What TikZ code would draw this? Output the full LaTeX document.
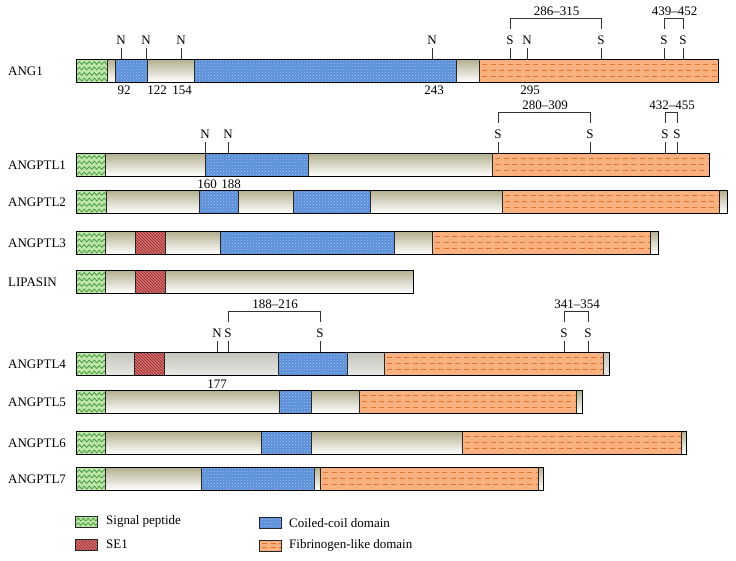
\documentclass[tikz,border=0pt]{standalone}
\usepackage{fontspec}
\setmainfont{Liberation Serif}
\usetikzlibrary{patterns,decorations.pathmorphing}
\definecolor{sigfill}{RGB}{190,229,168}
\definecolor{sigline}{RGB}{60,150,55}
\definecolor{sefill}{RGB}{214,110,108}
\definecolor{seline}{RGB}{140,40,40}
\definecolor{ccfill}{RGB}{90,143,216}
\definecolor{ccdot}{RGB}{165,195,240}
\definecolor{fgfill}{RGB}{249,178,127}
\definecolor{fgline}{RGB}{226,115,45}
\definecolor{bartop}{RGB}{178,174,142}
\definecolor{greytop}{RGB}{196,196,188}
\definecolor{greybot}{RGB}{232,232,228}
\tikzset{
  every node/.style={font=\fontsize{13}{15}\selectfont, inner sep=0pt},
  lbl/.style={anchor=center},
  rowname/.style={anchor=west},
  barshade/.style={top color=bartop, bottom color=white},
  greyshade/.style={top color=greytop, bottom color=greybot},
  outline/.style={draw=black, line width=1pt},
  dom/.style={draw=black!85, line width=0.8pt},
  sigwave/.style={draw=sigline, line width=0.7pt, decorate, decoration={zigzag, segment length=5pt, amplitude=1.4pt}},
  fgdash/.style={draw=fgline, line width=0.8pt, dash pattern=on 5pt off 3.5pt},
  tk/.style={draw=black!80, line width=0.8pt},
}
% signal peptide: x1 x2 y1 y2 rows
\newcommand\dsig[5]{%
  \edef\mylist{#5}%
  \fill[sigfill] (#1,#3) rectangle (#2,#4);
  \begin{scope}\clip (#1,#3) rectangle (#2,#4);
    \foreach \d in \mylist {\draw[sigwave] (#1-3,#3+\d) -- (#2+3,#3+\d);}
  \end{scope}
  \draw[dom] (#1,#3) rectangle (#2,#4);}
% SE1
\newcommand\dse[4]{%
  \fill[sefill] (#1,#3) rectangle (#2,#4);
  \fill[pattern=north west lines, pattern color=seline] (#1,#3) rectangle (#2,#4);
  \draw[dom] (#1,#3) rectangle (#2,#4);}
% coiled coil
\newcommand\dcc[4]{%
  \fill[ccfill] (#1,#3) rectangle (#2,#4);
  \fill[pattern=crosshatch dots, pattern color=ccdot] (#1,#3) rectangle (#2,#4);
  \draw[dom] (#1,#3) rectangle (#2,#4);}
% fibrinogen-like
\newcommand\dfg[5]{%
  \edef\mylist{#5}%
  \fill[fgfill] (#1,#3) rectangle (#2,#4);
  \begin{scope}\clip (#1,#3) rectangle (#2,#4);
    \foreach \d in \mylist {\draw[fgdash] (#1+3,#3+\d) -- (#2,#3+\d);}
  \end{scope}
  \draw[dom] (#1,#3) rectangle (#2,#4);}
% marker tick: name x ytop letter
\newcommand\mk[4]{%
  \node[lbl] (#1) at (#2,#3-19) {#4};
  \draw[tk] (#2,#3) -- (#2,#3-11);}
% bracket: name x1 x2 ytop label
\newcommand\brk[5]{%
  \draw[tk] (#2,#4-30) -- (#2,#4-41) -- (#3,#4-41) -- (#3,#4-30);
  \node[lbl] (#1) at ({(#2+#3)/2+1},#4-48) {#5};}
\begin{document}
\begin{tikzpicture}[x=1pt,y=-1pt]
\useasboundingbox (0,0) rectangle (736,560);
\def\rows{5.75,11.5,17.25}
\def\waves{4,9.5,15,20.5}

% ---------------- ANG1
\shade[barshade] (76,59) rectangle (718,82);
\dsig{76}{107}{59}{82}{\waves}
\dcc{115}{147}{59}{82}
\dcc{194}{456}{59}{82}
\dfg{479}{718}{59}{82}{\rows}
\draw[outline] (76,59) rectangle (718,82);
\node[rowname] (nANG1) at (8,71) {ANG1};
\mk{a1}{121}{59}{N}
\mk{a2}{146}{59}{N}
\mk{a3}{181}{59}{N}
\mk{a4}{432}{59}{N}
\mk{a5}{510}{59}{S}
\mk{a6}{527}{59}{N}
\mk{a7}{601}{59}{S}
\mk{a8}{664}{59}{S}
\mk{a9}{683}{59}{S}
\brk{b1}{510}{601}{59}{286--315}
\brk{b2}{664}{683}{59}{439--452}
\node[lbl] (p92) at (124,90) {92};
\node[lbl] (p122) at (157,90) {122};
\node[lbl] (p154) at (182,90) {154};
\node[lbl] (p243) at (434,90) {243};
\node[lbl] (p295) at (530,90) {295};

% ---------------- ANGPTL1
\shade[barshade] (76,153) rectangle (709,176);
\dsig{76}{105}{153}{176}{\waves}
\dcc{205}{308}{153}{176}
\dfg{492}{709}{153}{176}{\rows}
\draw[outline] (76,153) rectangle (709,176);
\node[rowname] (nL1) at (8,165) {ANGPTL1};
\mk{c1}{205}{153}{N}
\mk{c2}{228}{153}{N}
\mk{c3}{498}{153}{S}
\mk{c4}{590}{153}{S}
\mk{c5}{665}{153}{S}
\mk{c6}{677}{153}{S}
\brk{d1}{498}{590}{153}{280--309}
\brk{d2}{665}{677}{153}{432--455}
\node[lbl] (p160) at (207,184) {160};
\node[lbl] (p188) at (231,184) {188};

% ---------------- ANGPTL2
\shade[barshade] (76,190) rectangle (727,213);
\dsig{76}{106}{190}{213}{\waves}
\dcc{199}{238}{190}{213}
\dcc{293}{370}{190}{213}
\dfg{502}{719}{190}{213}{\rows}
\draw[outline] (76,190) rectangle (727,213);
\node[rowname] (nL2) at (8,202) {ANGPTL2};

% ---------------- ANGPTL3
\shade[barshade] (76,231) rectangle (658,254);
\dsig{76}{105}{231}{254}{\waves}
\dse{135}{165}{231}{254}
\dcc{220}{394}{231}{254}
\dfg{432}{650}{231}{254}{\rows}
\draw[outline] (76,231) rectangle (658,254);
\node[rowname] (nL3) at (8,243) {ANGPTL3};

% ---------------- LIPASIN
\shade[barshade] (76,270) rectangle (413,293);
\dsig{76}{105}{270}{293}{\waves}
\dse{135}{165}{270}{293}
\draw[outline] (76,270) rectangle (413,293);
\node[rowname] (nLIP) at (8,282) {LIPASIN};

% ---------------- ANGPTL4
\shade[greyshade] (76,352) rectangle (609,375);
\dsig{76}{105}{352}{375}{\waves}
\dse{134}{164}{352}{375}
\dcc{278}{347}{352}{375}
\dfg{384}{603}{352}{375}{\rows}
\draw[outline] (76,352) rectangle (609,375);
\node[rowname] (nL4) at (8,364) {ANGPTL4};
\mk{e1}{217}{352}{N}
\mk{e2}{228}{352}{S}
\mk{e3}{320}{352}{S}
\mk{e4}{564}{352}{S}
\mk{e5}{588}{352}{S}
\brk{f1}{228}{320}{352}{188--216}
\brk{f2}{564}{588}{352}{341--354}
\node[lbl] (p177) at (217,384) {177};

% ---------------- ANGPTL5
\shade[barshade] (76,390) rectangle (582,413);
\dsig{76}{105}{390}{413}{\waves}
\dcc{279}{311}{390}{413}
\dfg{359}{576}{390}{413}{\rows}
\draw[outline] (76,390) rectangle (582,413);
\node[rowname] (nL5) at (8,402) {ANGPTL5};

% ---------------- ANGPTL6
\shade[barshade] (76,431) rectangle (686,454);
\dsig{76}{105}{431}{454}{\waves}
\dcc{261}{311}{431}{454}
\dfg{462}{681}{431}{454}{\rows}
\draw[outline] (76,431) rectangle (686,454);
\node[rowname] (nL6) at (8,443) {ANGPTL6};

% ---------------- ANGPTL7
\shade[barshade] (76,467) rectangle (543,490);
\dsig{76}{105}{467}{490}{\waves}
\dcc{201}{314}{467}{490}
\dfg{320}{538}{467}{490}{\rows}
\draw[outline] (76,467) rectangle (543,490);
\node[rowname] (nL7) at (8,479) {ANGPTL7};

% ---------------- legend
\dsig{75}{97}{516}{527}{3.5,8}
\node[rowname] (lg1) at (106,521) {Signal peptide};
\dse{75}{97}{539}{550}
\node[rowname] (lg2) at (106,544) {SE1};
\dcc{259}{281}{517}{528}
\node[rowname] (lg3) at (289,523) {Coiled-coil domain};
\dfg{259}{281}{540}{551}{3.7,7.4}
\node[rowname] (lg4) at (289,545) {Fibrinogen-like domain};
\end{tikzpicture}
\end{document}
